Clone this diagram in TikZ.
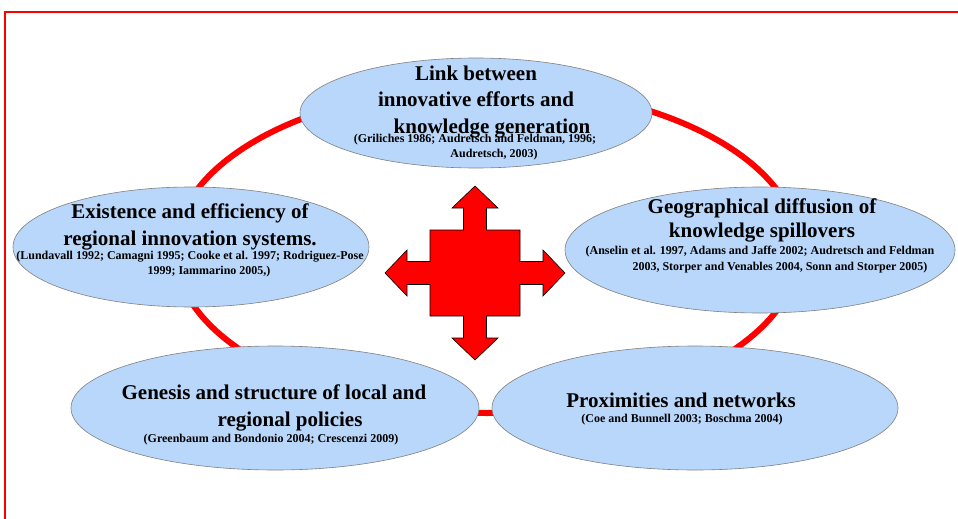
\documentclass[tikz,border=0pt]{standalone}
\usepackage{fontspec}
\setmainfont{Liberation Serif}
\usepackage{xcolor}
\usepackage{tikz}
\usetikzlibrary{positioning,shapes.geometric,calc}
\definecolor{bubble}{RGB}{185,215,250}

\begin{document}
\begin{tikzpicture}[x=1pt, y=-1pt, line join=miter,
  blob/.style={ellipse, draw=gray, fill=bubble, line width=0.6pt, inner sep=0pt},
  head/.style={font=\bfseries\fontsize{21}{26.5}\selectfont, align=center, inner sep=0pt},
  cite/.style={font=\bfseries\fontsize{12}{14.5}\selectfont, align=center, inner sep=0pt}]
  % Canvas and frame
  \fill[white] (0,0) rectangle (958,519);
  \useasboundingbox (0,0) rectangle (958,519);
  \draw[red, line width=2pt] (5,519) -- (5,12) -- (958,12);

  % Ring linking the five topics
  \coordinate (hub) at (487,250);
  \draw[red, line width=6pt] (hub) ellipse [x radius=312, y radius=163];

\node (link) at (476,113) [blob, minimum width=352, minimum height=110] {};
  
\node (ris) at (191,247) [blob, minimum width=356, minimum height=120] {};
  
\node (geo) at (760,250) [blob, minimum width=390, minimum height=126] {};
  
\node (pol) at (275,408) [blob, minimum width=408, minimum height=124] {};
  
\node (prox) at (695,408) [blob, minimum width=406, minimum height=124] {};

  % Four-way arrow in the middle
  \begin{scope}[shift={(475,273)}]
    \draw[fill=red, line width=0.6pt] (0,-87) -- (23,-65) -- (11.5,-65) -- (11.5,-43) -- (45,-43) -- (45,-11.5)
      -- (68,-11.5) -- (68,-23) -- (90,0) -- (68,23) -- (68,11.5) -- (45,11.5) -- (45,43) -- (11.5,43)
      -- (11.5,65) -- (23,65) -- (0,87) -- (-23,65) -- (-11.5,65) -- (-11.5,43) -- (-45,43) -- (-45,11.5)
      -- (-68,11.5) -- (-68,23) -- (-90,0) -- (-68,-23) -- (-68,-11.5) -- (-45,-11.5) -- (-45,-43)
      -- (-11.5,-43) -- (-11.5,-65) -- (-23,-65) -- cycle;
  \end{scope}

  % Titles and references
  \node (linkT) at (476,102) [head] {Link between\\innovative efforts and\\\hspace*{32pt}knowledge generation};
  \node (linkC) at (475,147) [cite] {(Griliches 1986; Audretsch and Feldman, 1996;\\\hspace*{38pt}Audretsch, 2003)};

  \node (risT) at (190,227) [head] {Existence and efficiency of\\regional innovation systems.};
  \node (risC) at (190,264) [cite] {(Lundavall 1992; Camagni 1995; Cooke et al. 1997; Rodriguez-Pose\\\hspace*{38pt}1999; Iammarino 2005,)};

  \node (geoT) at (762,220) [head, font=\bfseries\fontsize{21}{24}\selectfont] {Geographical diffusion of\\knowledge spillovers};
  \node (geoC) at (760,260) [cite, font=\bfseries\fontsize{12}{16}\selectfont] {(Anselin et al. 1997, Adams and Jaffe 2002; Audretsch and Feldman\\\hspace*{40pt}2003, Storper and Venables 2004, Sonn and Storper 2005)};

  \node (polT) at (274,408) [head] {Genesis and structure of local and\\\hspace*{32pt}regional policies};
  \node (polC) at (271,440) [cite] {(Greenbaum and Bondonio 2004; Crescenzi 2009)};

  \node (proxT) at (681,400) [head] {Proximities and networks};
  \node (proxC) at (682,420) [cite] {(Coe and Bunnell 2003; Boschma 2004)};
\end{tikzpicture}
\end{document}
